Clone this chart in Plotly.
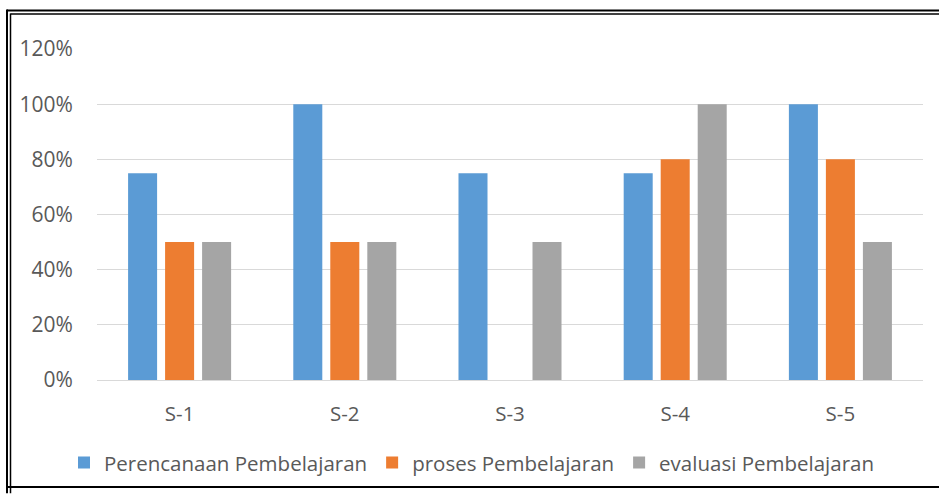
import plotly.graph_objects as go

categories = ["S-1", "S-2", "S-3", "S-4", "S-5"]
perencanaan = [0.75, 1.00, 0.75, 0.75, 1.00]
proses = [0.50, 0.50, 0.00, 0.80, 0.80]
evaluasi = [0.50, 0.50, 0.50, 1.00, 0.50]
series_names = ["Perencanaan Pembelajaran", "proses Pembelajaran", "evaluasi Pembelajaran"]
colors = ["#5B9BD5", "#ED7D31", "#A5A5A5"]
y_ticks = [0, 0.2, 0.4, 0.6, 0.8, 1.0, 1.2]
y_tick_labels = ["0%", "20%", "40%", "60%", "80%", "100%", "120%"]

W, H = 939, 495
L, R, T, B = 97, 16, 49, 110
pw, ph = W - L - R, H - T - B

def px(x):
    return (x - L) / pw

def py(y):
    return (H - B - y) / ph

FONT = "Open Sans"
TXT = "#595959"

fig = go.Figure()
for name, vals, col in zip(series_names, [perencanaan, proses, evaluasi], colors):
    fig.add_trace(go.Bar(x=categories, y=vals, name=name,
                         marker=dict(color=col, line=dict(width=0))))

def hline(y, x0, x1, w):
    return dict(type="line", xref="paper", yref="paper", x0=px(x0), x1=px(x1),
                y0=py(y), y1=py(y), line=dict(color="black", width=w))

def vline(x, y0, y1, w):
    return dict(type="line", xref="paper", yref="paper", x0=px(x), x1=px(x),
                y0=py(y0), y1=py(y1), line=dict(color="black", width=w))

shapes = [
    hline(10, 7, 945, 2),
    vline(7, 9, 500, 2),
    hline(13.5, 10.5, 945, 1.5),
    vline(10.5, 13, 500, 1.5),
    hline(493.5, 6, 945, 2),
]

fig.update_layout(
    width=W, height=H,
    margin=dict(l=L, r=R, t=T, b=B, pad=0),
    paper_bgcolor="white", plot_bgcolor="white",
    barmode="group", bargap=0.328, bargroupgap=0.216,
    font=dict(family=FONT, size=20, color=TXT),
    showlegend=True,
    legend=dict(orientation="h", x=px(64), xanchor="left", y=py(469), yanchor="middle",
                font=dict(family=FONT, size=20.5, color=TXT), bgcolor="rgba(0,0,0,0)",
                itemclick=False),
    shapes=shapes,
    xaxis=dict(showgrid=False, showline=False, zeroline=False,
               ticks="outside", ticklen=15, tickcolor="rgba(0,0,0,0)",
               tickfont=dict(family=FONT, size=20.5, color=TXT)),
    yaxis=dict(range=[0, 1.2], tickvals=y_ticks, ticktext=y_tick_labels,
               showgrid=True, gridcolor="#D9D9D9", gridwidth=1.3,
               zeroline=True, zerolinecolor="#D9D9D9", zerolinewidth=1.3,
               showline=False, ticks="outside", ticklen=19, tickcolor="rgba(0,0,0,0)",
               tickfont=dict(family=FONT, size=21, color=TXT)),
)

fig.write_html("out.html", config={"displayModeBar": False},
               post_script="document.body.style.margin='0';document.body.style.overflow='hidden';")
